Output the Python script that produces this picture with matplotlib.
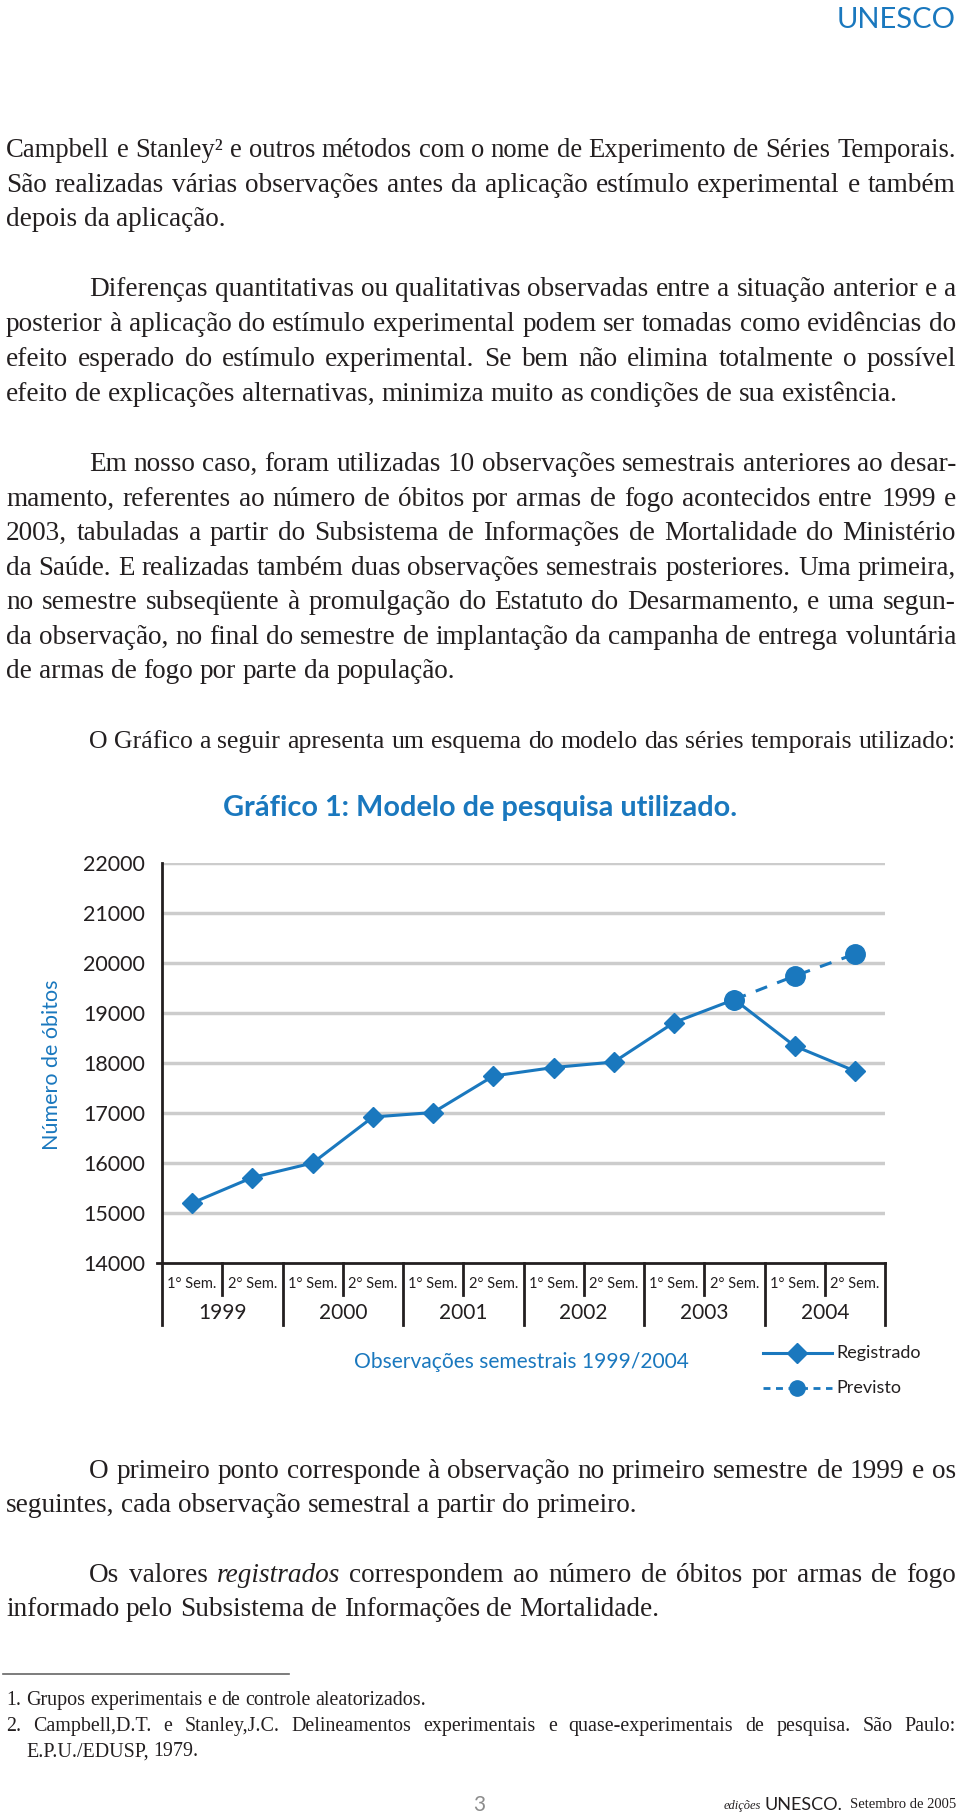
import matplotlib
matplotlib.use('Agg')
import matplotlib.pyplot as plt
from matplotlib.transforms import blended_transform_factory

# chart data
semesters = ['1° Sem.', '2° Sem.'] * 6
years = ['1999', '2000', '2001', '2002', '2003', '2004']
registrado = [15200, 15710, 16000, 16920, 17010, 17740, 17910, 18020, 18810, 19270, 18340, 17840]
previsto_idx = [9, 10, 11]
previsto = [19270, 19740, 20180]
yticks = [14000, 15000, 16000, 17000, 18000, 19000, 20000, 21000, 22000]

# page text: (text, x start, y centre, justified)
para_top = [
    ("Campbell e Stanley² e outros métodos com o nome de Experimento de Séries Temporais.", 6, 151, True),
    ("São realizadas várias observações antes da aplicação estímulo experimental e também", 6, 186, True),
    ("depois da aplicação.", 6, 220, False),
    ("Diferenças quantitativas ou qualitativas observadas entre a situação anterior e a", 89, 290, True),
    ("posterior à aplicação do estímulo experimental podem ser tomadas como evidências do", 6, 325, True),
    ("efeito esperado do estímulo experimental. Se bem não elimina totalmente o possível", 6, 360, True),
    ("efeito de explicações alternativas, minimiza muito as condições de sua existência.", 6, 395, False),
    ("Em nosso caso, foram utilizadas 10 observações semestrais anteriores ao desar-", 89, 465, True),
    ("mamento, referentes ao número de óbitos por armas de fogo acontecidos entre 1999 e", 6, 499.5, True),
    ("2003, tabuladas a partir do Subsistema de Informações de Mortalidade do Ministério", 6, 534, True),
    ("da Saúde. E realizadas também duas observações semestrais posteriores. Uma primeira,", 6, 568.5, True),
    ("no semestre subseqüente à promulgação do Estatuto do Desarmamento, e uma segun-", 6, 603, True),
    ("da observação, no final do semestre de implantação da campanha de entrega voluntária", 6, 637.5, True),
    ("de armas de fogo por parte da população.", 6, 672, False),
    ("O Gráfico a seguir apresenta um esquema do modelo das séries temporais utilizado:", 89, 742, True),
    ("O primeiro ponto corresponde à observação no primeiro semestre de 1999 e os", 89, 1472, True),
    ("seguintes, cada observação semestral a partir do primeiro.", 6, 1506, False),
    ("Os valores _registrados_ correspondem ao número de óbitos por armas de fogo", 89, 1576, True),
    ("informado pelo Subsistema de Informações de Mortalidade.", 6, 1610, False),
]
notes = [
    ("1. Grupos experimentais e de controle aleatorizados.", 6, 1701, False),
    ("2. Campbell,D.T. e Stanley,J.C. Delineamentos experimentais e quase-experimentais de pesquisa. São Paulo:", 6, 1727, True),
    ("E.P.U./EDUSP, 1979.", 26, 1752, False),
]

blue = '#1a78be'
ink = '#231f20'
serif = 'Liberation Serif'
sans = 'Lato'

fig = plt.figure(figsize=(9.6, 18.18), dpi=100)
page = fig.add_axes([0, 0, 1, 1])
page.set_xlim(0, 960)
page.set_ylim(1818, 0)
page.axis('off')
renderer = fig.canvas.get_renderer()


def width(t):
    return t.get_window_extent(renderer).width


def fit_size(s, target, **kw):
    t = page.text(0, 0, s, fontsize=10, **kw)
    w = width(t)
    t.remove()
    return 10 * target / w


def text_line(s, x0, yc, size, justify, x1=956):
    words = s.split(' ')
    arts = []
    for w in words:
        style = 'normal'
        if w.startswith('_'):
            w = w.strip('_')
            style = 'italic'
        arts.append(page.text(0, 0, w, fontsize=size, family=serif, style=style,
                              color=ink, va='baseline'))
    ws = [width(a) for a in arts]
    space = 0.25 * size * 100 / 72
    natural = sum(ws) + space * (len(ws) - 1)
    if natural > x1 - x0:
        # line too long for this face: shrink it a little
        k = (x1 - x0) / natural
        size *= k
        for a in arts:
            a.set_fontsize(size)
        ws = [w * k for w in ws]
        space *= k
    yb = yc + 0.225 * size * 100 / 72
    if justify and len(arts) > 1:
        gap = (x1 - x0 - sum(ws)) / (len(arts) - 1)
    else:
        gap = space
    x = x0
    for a, w in zip(arts, ws):
        a.set_position((x, yb))
        x += w + gap


body = fit_size(para_top[6][0], 890, family=serif)
for s, x0, y, j in para_top:
    text_line(s, x0, y, body, j)
small = fit_size(notes[0][0], 419, family=serif)
for s, x0, y, j in notes:
    text_line(s, x0, y, small, j)
page.plot([3, 289], [1674, 1674], color='#666666', lw=1.2)

# header and footer
page.text(956, 20, 'UNESCO', ha='right', va='center', color=blue, family=sans,
          fontsize=fit_size('UNESCO', 118, family=sans))
page.text(479, 1805, '3', ha='center', va='center', color='#8c8c8c', family=sans,
          fontsize=15)
t1 = page.text(956, 1805, 'Setembro de 2005', ha='right', va='center', color=ink,
               family=serif, fontsize=10.5)
x = 956 - width(t1) - 7
t2 = page.text(x, 1805, 'UNESCO.', ha='right', va='center', color=ink, family=sans,
               fontsize=13)
x -= width(t2) + 4
page.text(x, 1806, 'edições', ha='right', va='center', color=ink, family=serif,
          style='italic', fontsize=9)

# chart
page.text(480, 808, 'Gráfico 1: Modelo de pesquisa utilizado.', ha='center', va='center',
          color=blue, family=sans, fontweight='bold',
          fontsize=fit_size('Gráfico 1: Modelo de pesquisa utilizado.', 515,
                            family=sans, fontweight='bold'))
page.text(52, 1065, 'Número de óbitos', rotation=90, ha='center', va='center',
          color=blue, family=sans, fontsize=fit_size('Número de óbitos', 171, family=sans))
page.text(521, 1362, 'Observações semestrais 1999/2004', ha='center', va='center',
          color=blue, family=sans,
          fontsize=fit_size('Observações semestrais 1999/2004', 334, family=sans))

ax = fig.add_axes([162 / 960, 1 - 1263 / 1818, 723 / 960, 400 / 1818])
ax.patch.set_alpha(0)
ax.set_xlim(0, 12)
ax.set_ylim(14000, 22000)
for v in yticks[1:]:
    ax.axhline(v, color='#cccccc', lw=2.5, zorder=1)
for sp in ['top', 'right']:
    ax.spines[sp].set_visible(False)
for sp in ['left', 'bottom']:
    ax.spines[sp].set_color(ink)
    ax.spines[sp].set_linewidth(2)
ax.set_yticks(yticks)
ax.set_yticklabels([str(v) for v in yticks], fontsize=15.5, family=sans, color=ink)
ax.tick_params(axis='y', length=0, pad=12)
ax.set_xticks([])

xs = [i + 0.5 for i in range(12)]
ax.plot(xs, registrado, color=blue, lw=2.2, marker='D', ms=10, zorder=3, clip_on=False)
ax.plot([xs[i] for i in previsto_idx], previsto, color=blue, lw=2.2, ls=(0, (4, 3.5)),
        marker='o', ms=14, zorder=4, clip_on=False)

tr = blended_transform_factory(ax.transData, ax.transAxes)
for b in range(13):
    depth = -0.155 if b % 2 == 0 else -0.08
    ax.plot([b, b], [0, depth], transform=tr, color=ink, lw=2, clip_on=False)
ax.plot([-0.08, 0], [14000, 14000], color=ink, lw=2, clip_on=False)
for i, s in enumerate(semesters):
    ax.text(i + 0.5, -0.0525, s, transform=tr, ha='center', va='center', fontsize=10.5,
            family=sans, color=ink)
for j, s in enumerate(years):
    ax.text(2 * j + 1, -0.125, s, transform=tr, ha='center', va='center', fontsize=15,
            family=sans, color=ink)

# legend
page.plot([763, 832], [1353, 1353], color=blue, lw=2.2)
page.plot([797], [1353], marker='D', ms=10, color=blue)
page.plot([763, 832], [1388, 1388], color=blue, lw=2, ls=(0, (2.5, 2)))
page.plot([797], [1388], marker='o', ms=11, color=blue)
page.text(836, 1353, 'Registrado', va='center', fontsize=13, family=sans, color=ink)
page.text(836, 1388, 'Previsto', va='center', fontsize=13, family=sans, color=ink)

fig.savefig('out.png', dpi=100)
